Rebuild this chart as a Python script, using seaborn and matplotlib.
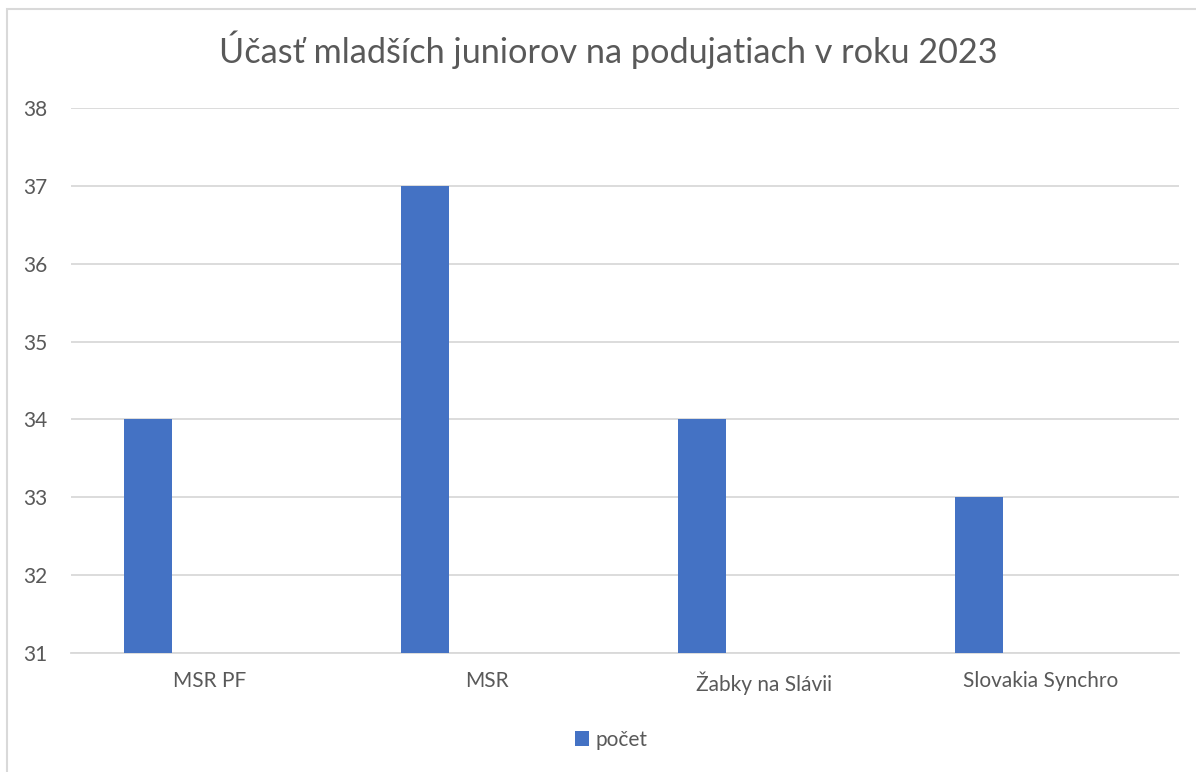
import matplotlib
matplotlib.use("Agg")
import matplotlib.pyplot as plt
import seaborn as sns
import pandas as pd
from matplotlib.patches import Rectangle, Patch

categories = ["MSR PF", "MSR", "Žabky na Slávii", "Slovakia Synchro"]
values = [34, 37, 34, 33]
series_name = "počet"
title = "Účasť mladších juniorov na podujatiach v roku 2023"
yticks = [31, 32, 33, 34, 35, 36, 37, 38]

sns.set_theme(style="white")
plt.rcParams['font.family'] = ['Lato', 'DejaVu Sans']

W, H = 1196, 772
fig = plt.figure(figsize=(W / 100, H / 100), dpi=100)
ax = fig.add_axes([71 / W, 1 - 653 / H, (1179 - 71) / W, (653 - 108) / H])

df = pd.DataFrame({"cat": categories, "val": values})
sns.barplot(data=df, x="cat", y="val", color="#4472C4", width=48 / 277,
            saturation=1, ax=ax, zorder=3)
shift = -61.5 / 277
for p in ax.patches:
    p.set_x(p.get_x() + shift)
    p.set_edgecolor("none")

ax.set_xlim(-0.5, len(categories) - 0.5)
ax.set_ylim(yticks[0], yticks[-1])
ax.set_yticks(yticks)
ax.yaxis.grid(True, color="#D9D9D9", linewidth=1.3, zorder=0)
ax.set_axisbelow(True)
for s in ["top", "right", "left"]:
    ax.spines[s].set_visible(False)
ax.spines["bottom"].set_color("#D9D9D9")
ax.spines["bottom"].set_linewidth(1.3)
ax.set_xlabel("")
ax.set_ylabel("")
ax.tick_params(axis="both", length=0, labelsize=15, labelcolor="#595959")
ax.tick_params(axis="y", pad=17)
ax.tick_params(axis="x", pad=13)

fig.text(608 / W, 1 - 50 / H, title, ha="center", va="center",
         fontsize=24.7, color="#595959")

handle = Patch(facecolor="#4472C4", edgecolor="none")
fig.legend([handle], [series_name], loc="center", bbox_to_anchor=(611 / W, 1 - 740 / H),
           frameon=False, fontsize=15, labelcolor="#595959",
           handlelength=0.7, handleheight=0.7, handletextpad=0.3)

fig.patches.append(Rectangle((7 / W, -0.1), 1.2, 1 - 9 / H + 0.1, transform=fig.transFigure,
                             fill=False, edgecolor="#D9D9D9", linewidth=1.5))

fig.savefig("out.png", dpi=100)
